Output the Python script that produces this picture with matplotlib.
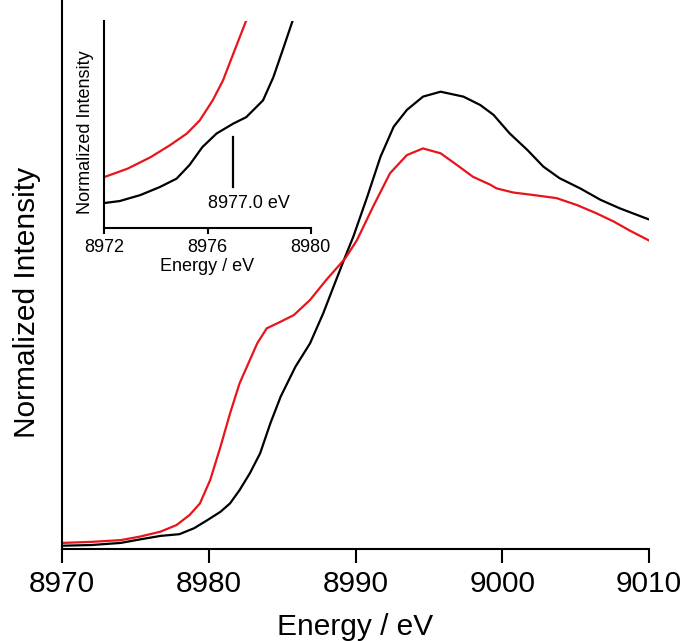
import matplotlib
matplotlib.use("Agg")
import matplotlib.pyplot as plt

plt.rcParams["font.family"] = ["Liberation Sans", "DejaVu Sans"]

# main spectrum, black sample
energy_black = [8970.0, 8972.0, 8974.0, 8975.3, 8976.7, 8978.0, 8979.0, 8979.9, 8980.8,
                8981.45, 8982.1, 8982.8, 8983.5, 8984.2, 8984.9, 8985.9, 8986.9, 8987.8,
                8988.5, 8989.3, 8989.85, 8990.8, 8991.7, 8992.6, 8993.5, 8994.6, 8995.8,
                8997.35, 8998.5, 8999.4, 9000.5, 9001.7, 9002.8, 9003.9, 9005.3, 9006.7,
                9008.0, 9010.0]
mu_black = [-0.002, 0.000, 0.006, 0.016, 0.026, 0.031, 0.048, 0.071, 0.095,
            0.119, 0.157, 0.205, 0.262, 0.348, 0.424, 0.509, 0.576, 0.662,
            0.738, 0.824, 0.881, 0.995, 1.109, 1.195, 1.243, 1.281, 1.295,
            1.281, 1.257, 1.229, 1.176, 1.129, 1.081, 1.048, 1.019, 0.986,
            0.962, 0.930]

# main spectrum, red sample
energy_red = [8970.0, 8972.0, 8974.0, 8975.3, 8976.7, 8977.8, 8978.7, 8979.4, 8980.1,
              8980.8, 8981.45, 8982.1, 8983.3, 8983.95, 8984.9, 8985.8, 8986.9, 8988.0,
              8989.3, 8990.1, 8991.2, 8992.35, 8993.5, 8994.6, 8995.8, 8996.9, 8998.0,
              8999.2, 8999.6, 9000.75, 9002.1, 9003.7, 9005.1, 9006.4, 9007.6, 9008.7,
              9010.0]
mu_red = [0.006, 0.009, 0.014, 0.024, 0.038, 0.057, 0.086, 0.119, 0.186,
          0.281, 0.376, 0.462, 0.576, 0.619, 0.638, 0.657, 0.700, 0.757,
          0.819, 0.871, 0.967, 1.062, 1.114, 1.133, 1.119, 1.086, 1.052,
          1.029, 1.019, 1.007, 1.000, 0.991, 0.971, 0.948, 0.924, 0.898,
          0.870]

# pre-edge region (inset)
inset_energy_black = [8972.0, 8972.6, 8973.4, 8974.15, 8974.8, 8975.3, 8975.8, 8976.35,
                      8977.0, 8977.5, 8978.15, 8978.55, 8978.95, 8979.3, 8979.5]
inset_mu_black = [0.0003, 0.0008, 0.0023, 0.0043, 0.0064, 0.0098, 0.0143, 0.0177,
                  0.0202, 0.0218, 0.0260, 0.0318, 0.0393, 0.0460, 0.0490]
inset_energy_red = [8972.0, 8972.9, 8973.8, 8974.55, 8975.2, 8975.7, 8976.2, 8976.6,
                    8977.0, 8977.5, 8977.7]
inset_mu_red = [0.0068, 0.0089, 0.0118, 0.0148, 0.0177, 0.0210, 0.0260, 0.0310,
                0.0377, 0.0460, 0.0500]

preedge_energy = 8977.0
preedge_label = "8977.0 eV"

fig = plt.figure(figsize=(6.86, 6.41), dpi=100)
ax = fig.add_axes([0.0904, 0.1435, 0.8557, 0.8565])
ax.plot(energy_black, mu_black, color="black", lw=1.6)
ax.plot(energy_red, mu_red, color="#e8141b", lw=1.6)
ax.set_xlim(8970, 9010)
ax.set_ylim(-0.0114, 1.557)
ax.set_xticks([8970, 8980, 8990, 9000, 9010])
ax.set_yticks([])
ax.spines["top"].set_visible(False)
ax.spines["right"].set_visible(False)
ax.spines["left"].set_linewidth(1.5)
ax.spines["bottom"].set_linewidth(1.5)
ax.tick_params(axis="x", direction="out", length=10, width=1.5, labelsize=21.5, pad=5)
ax.set_xlabel("Energy / eV", fontsize=21.5, labelpad=11)
ax.set_ylabel("Normalized Intensity", fontsize=21.5)
ax.yaxis.set_label_coords(-0.035, 0.45)

ins = fig.add_axes([0.152, 0.644, 0.301, 0.324])
ins.plot(inset_energy_black, inset_mu_black, color="black", lw=1.6)
ins.plot(inset_energy_red, inset_mu_red, color="#e8141b", lw=1.6)
ins.plot([preedge_energy, preedge_energy], [0.0043, 0.0168], color="black", lw=1.6)
ins.text(preedge_energy + 0.6, 0.0003, preedge_label, fontsize=13, ha="center", va="center")
ins.set_xlim(8972, 8980)
ins.set_ylim(-0.006, 0.046)
ins.set_xticks([8972, 8976, 8980])
ins.set_yticks([])
ins.spines["top"].set_visible(False)
ins.spines["right"].set_visible(False)
ins.spines["left"].set_linewidth(1.5)
ins.spines["bottom"].set_linewidth(1.5)
ins.tick_params(axis="x", direction="out", length=4, width=1.5, labelsize=13, pad=4)
ins.set_xlabel("Energy / eV", fontsize=13, labelpad=1)
ins.set_ylabel("Normalized Intensity", fontsize=13)
ins.yaxis.set_label_coords(-0.05, 0.46)

fig.savefig("out.png", dpi=100)
